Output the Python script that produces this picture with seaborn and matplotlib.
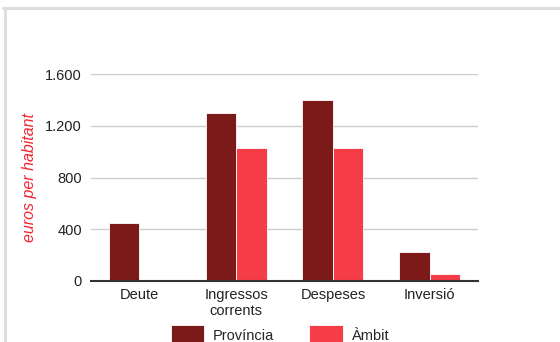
import matplotlib
matplotlib.use("Agg")
import matplotlib.pyplot as plt
import seaborn as sns
import pandas as pd
from matplotlib.lines import Line2D
from matplotlib.patches import Patch

# --- Data ---
categories = ["Deute", "Ingressos\ncorrents", "Despeses", "Inversió"]
provincia = [445, 1295, 1398, 225]
ambit = [0, 1031, 1031, 57]
series_names = ["Província", "Àmbit"]
y_ticks = [0, 400, 800, 1200, 1600]
y_tick_labels = ["0", "400", "800", "1.200", "1.600"]

COL_PROV = "#7b1a19"
COL_AMBIT = "#f63c47"

df = pd.DataFrame({
    "categoria": categories * 2,
    "serie": [series_names[0]] * len(categories) + [series_names[1]] * len(categories),
    "valor": provincia + ambit,
})

sns.set_style("white")
plt.rcParams["font.family"] = ["Liberation Sans", "DejaVu Sans"]

W, H = 560, 342
fig = plt.figure(figsize=(W / 100, H / 100), dpi=100)
ax = fig.add_axes([91 / W, (H - 281) / H, (478 - 91) / W, (281 - 74) / H])

sns.barplot(data=df, x="categoria", y="valor", hue="serie", order=categories,
            hue_order=series_names, palette=[COL_PROV, COL_AMBIT], width=0.63,
            saturation=1, edgecolor="white", linewidth=0.6, legend=False, ax=ax)

ax.set_xlim(-0.5, len(categories) - 0.5)
ax.set_ylim(0, 1600)
ax.set_yticks(y_ticks)
ax.set_yticklabels(y_tick_labels)
ax.yaxis.grid(True, color="#cccccc", linewidth=1.0)
ax.set_axisbelow(True)
for side in ["top", "right", "left"]:
    ax.spines[side].set_visible(False)
ax.spines["bottom"].set_color("#333333")
ax.spines["bottom"].set_linewidth(1.5)
ax.spines["bottom"].set_zorder(5)
ax.tick_params(axis="both", length=0, labelsize=10.5, colors="#222222")
ax.tick_params(axis="y", pad=6.5)
ax.tick_params(axis="x", pad=5)
ax.set_xlabel("")
ax.set_ylabel("euros per habitant", fontsize=11.5, style="italic",
              color="#f5262f", labelpad=6)

# legend at the bottom edge, patches run off the figure as in the original
handles = [Patch(facecolor=COL_PROV, edgecolor="white", linewidth=0.6),
           Patch(facecolor=COL_AMBIT, edgecolor="white", linewidth=0.6)]
fig.legend(handles, series_names, loc="upper center", ncol=2, frameon=False,
           bbox_to_anchor=(280 / W, 1 - 325 / H), fontsize=10.5,
           handlelength=2.3, handleheight=1.7, handletextpad=0.6,
           columnspacing=2.4, borderpad=0, borderaxespad=0)

# light grey frame on the top and left edges
fig.add_artist(Line2D([4.5 / W, 4.5 / W], [0, 1 - 7.5 / H], transform=fig.transFigure,
                      color="#dedede", linewidth=2.2))
fig.add_artist(Line2D([3 / W, 1], [1 - 7.5 / H, 1 - 7.5 / H], transform=fig.transFigure,
                      color="#dedede", linewidth=2.2))

fig.savefig("out.png", dpi=100)
